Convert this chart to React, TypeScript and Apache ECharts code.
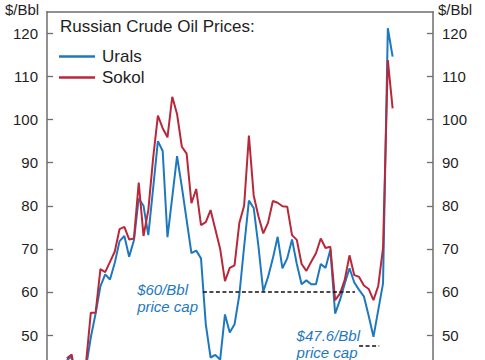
import React, { useEffect, useRef } from "react";
import * as echarts from "echarts";

// Monthly observations, Aug 2020 .. Apr 2026 (index 0 = Aug 2020)
const startYear = 2020;
const startMonth = 8;
const urals = [
  44.2, 45.0, 38.5, 39.5, 42.5, 49.5, 55.0, 61.3, 64.1, 62.9,
  66.8, 71.8, 73.0, 68.2, 72.0, 81.7, 80.0, 73.2, 84.0, 95.0,
  92.7, 72.7, 82.0, 91.5, 84.4, 76.7, 69.0, 69.6, 67.8, 52.5,
  44.8, 45.4, 44.3, 54.8, 50.6, 52.5, 59.3, 70.5, 81.2, 79.5,
  70.5, 60.1, 63.5, 67.8, 72.8, 65.5, 67.8, 72.2, 66.5, 61.8,
  62.7, 61.8, 61.8, 66.5, 65.6, 69.8, 55.0, 58.1, 61.9, 65.5,
  62.2, 60.5, 59.0, 54.5, 49.6, 55.8, 62.0, 121.2, 114.6,
];
const sokol = [
  44.6, 45.5, 39.0, 40.0, 43.5, 55.2, 55.2, 65.3, 64.6, 67.0,
  69.4, 74.6, 75.1, 72.2, 72.4, 85.4, 73.0, 79.0, 91.0, 100.9,
  98.0, 95.9, 105.3, 101.3, 93.7, 92.1, 80.6, 83.9, 75.5, 76.2,
  79.0, 74.5, 70.0, 62.5, 65.6, 66.2, 76.0, 80.0, 96.3, 82.4,
  77.5, 73.6, 76.1, 81.1, 80.7, 79.9, 79.8, 73.2, 72.1, 66.5,
  64.9, 67.0, 69.0, 72.4, 70.2, 70.5, 58.1, 59.6, 62.8, 68.5,
  63.9, 63.5, 61.5, 60.7, 58.1, 61.4, 70.2, 113.8, 102.6,
];
const months: string[] = urals.map((_, i) => {
  const m = startMonth - 1 + i;
  const y = startYear + Math.floor(m / 12);
  return `${y}-${String((m % 12) + 1).padStart(2, "0")}`;
});

// Price caps: level and span in month-index units
const capLevels = [60, 47.6];
const capStart = [28.4, 61.0];
const capEnd = [60.15, 65.2];
const capLabels = ["$60/Bbl\nprice cap", "$47.6/Bbl\nprice cap"];

// visible value range (the chart is cropped at the bottom)
const yMin = 44.22;
const yMax = 125;
const yStep = 10;

const BLUE = "#1e78be";
const RED = "#b8283a";
const AXIS = "#6e6e6e";
const TXT = "#1e1e1e";
const FONT = "Liberation Sans, Arial, Helvetica, sans-serif";

export default function App() {
  const ref = useRef<HTMLDivElement>(null);
  useEffect(() => {
    if (!ref.current) return;
    document.body.style.margin = "0";
    const chart = echarts.init(ref.current, undefined, { renderer: "svg" });
    const yAxisBase = (pos: "left" | "right") => ({
      type: "value",
      position: pos,
      min: yMin,
      max: yMax,
      minInterval: yStep,
      maxInterval: yStep,
      splitNumber: 8,
      axisLine: { show: true, onZero: false, lineStyle: { color: AXIS, width: 1.5 } },
      axisTick: { show: true, inside: true, length: 6, lineStyle: { color: AXIS, width: 1.3 } },
      axisLabel: {
        show: true,
        margin: 9,
        fontSize: 15,
        color: TXT,
        fontFamily: FONT,
        showMaxLabel: false,
        showMinLabel: false,
      },
      splitLine: { show: false },
    });
    const txt = (extra: any, style: any) => ({
      type: "text",
      ...extra,
      style: { fontSize: 15, fontFamily: FONT, fill: TXT, ...style },
    });
    chart.setOption({
      animation: false,
      textStyle: { fontFamily: FONT },
      grid: {
        left: 47,
        right: 52,
        top: 11.85,
        bottom: 0,
        show: false,
        containLabel: false,
        outerBoundsMode: "none",
      },
      title: {
        text: "Russian Crude Oil Prices:",
        left: 60,
        top: 18,
        padding: 0,
        textStyle: { fontSize: 17, fontWeight: "normal", color: TXT, fontFamily: FONT },
      },
      legend: {
        data: ["Urals", "Sokol"],
        orient: "vertical",
        left: 59,
        top: 48,
        padding: 0,
        icon: "rect",
        itemWidth: 36,
        itemHeight: 2.5,
        itemGap: 4,
        textStyle: { fontSize: 17, color: TXT, fontFamily: FONT, padding: [0, 0, 0, 2] },
      },
      xAxis: {
        type: "value",
        position: "top",
        min: -4.15,
        max: 76.43,
        axisLine: { show: true, onZero: false, lineStyle: { color: AXIS, width: 1.5 } },
        axisTick: { show: false },
        axisLabel: { show: false },
        splitLine: { show: false },
      },
      yAxis: [yAxisBase("left"), yAxisBase("right")],
      graphic: [
        txt({ left: 5, top: 2 }, { text: "$/Bbl" }),
        txt({ left: 438, top: 2 }, { text: "$/Bbl" }),
        txt(
          { right: 287, top: 280.5 },
          { text: capLabels[0], fontStyle: "italic", fill: BLUE, align: "right", lineHeight: 17 }
        ),
        txt(
          { right: 125, top: 326.5 },
          { text: capLabels[1], fontStyle: "italic", fill: BLUE, align: "right", lineHeight: 17 }
        ),
      ],
      series: [
        {
          name: "Urals",
          type: "line",
          data: urals.map((v, i) => [i, v]),
          symbol: "none",
          showSymbol: false,
          lineStyle: { color: BLUE, width: 2 },
          itemStyle: { color: BLUE },
          markLine: {
            silent: true,
            symbol: "none",
            label: { show: false },
            lineStyle: { color: "#111", type: [4, 2.5], width: 1.5 },
            data: capLevels.map((lvl, j) => [
              { coord: [capStart[j], lvl] },
              { coord: [capEnd[j], lvl] },
            ]),
          },
        },
        {
          name: "Sokol",
          type: "line",
          data: sokol.map((v, i) => [i, v]),
          symbol: "none",
          showSymbol: false,
          lineStyle: { color: RED, width: 2 },
          itemStyle: { color: RED },
        },
      ],
      tooltip: { show: false },
    });
    (chart as any).__months = months;
    return () => chart.dispose();
  }, []);
  return (
    <div
      ref={ref}
      style={{ position: "fixed", left: 0, top: 0, width: 485, height: 360 }}
    />
  );
}
